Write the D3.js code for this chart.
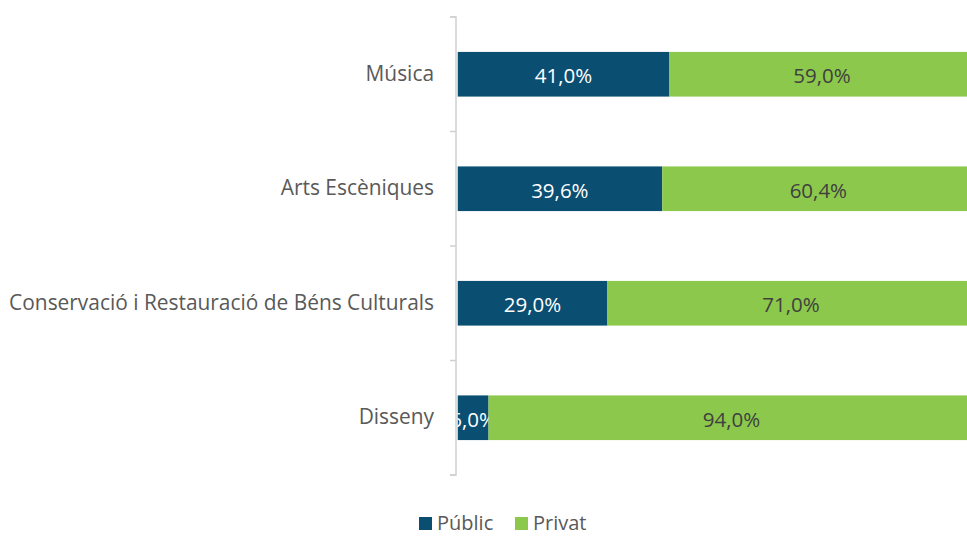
<!DOCTYPE html>
<html><head><meta charset="utf-8">
<script src="https://cdn.jsdelivr.net/npm/d3@7"></script>
<style>body{margin:0;background:#fff}svg{display:block}</style>
</head><body>
<svg id="c" width="967" height="536"></svg>
<script>
const categories = ["Música","Arts Escèniques","Conservació i Restauració de Béns Culturals","Disseny"];
const publicValues = [41.0, 39.6, 29.0, 6.0];
const privatValues = [59.0, 60.4, 71.0, 94.0];
const seriesNames = ["Públic","Privat"];
const colors = ["#0a4e72","#8cc84b"];
const textColors = ["#ffffff","#404040"];

const svg = d3.select("#c");
const font = "'Open Sans', 'Noto Sans', sans-serif";
const x0 = 457.5, plotW = 517;
const x = d3.scaleLinear().domain([0,100]).range([x0, x0+plotW]);
const y = d3.scaleBand().domain(categories).range([17,475]).paddingInner(0.61).paddingOuter(0.305);

const rows = categories.map((c,i)=>({cat:c, vals:[publicValues[i], privatValues[i]]}));

svg.append("clipPath").attr("id","pc").append("rect")
  .attr("x", x0).attr("y", 0).attr("width", 967-x0).attr("height", 536);

const g = svg.append("g").attr("clip-path","url(#pc)");
rows.forEach(r=>{
  let acc = 0;
  r.vals.forEach((v,k)=>{
    const a = acc, b = acc+v; acc = b;
    g.append("rect").attr("x", x(a)).attr("width", x(b)-x(a))
      .attr("y", y(r.cat)).attr("height", y.bandwidth()).attr("fill", colors[k]);
    g.append("text").attr("x", (x(a)+x(b))/2).attr("y", y(r.cat)+y.bandwidth()/2+1)
      .attr("text-anchor","middle").attr("dominant-baseline","central")
      .attr("font-family", font).attr("font-size", 20.5).attr("fill", textColors[k])
      .text(v.toFixed(1).replace(".", ",") + "%");
  });
});

// axis
const axis = d3.axisLeft(y).tickSize(0).tickPadding(22);
const ag = svg.append("g").attr("transform", `translate(${456},0)`).call(axis);
ag.select(".domain").attr("stroke","#d0d0d0").attr("stroke-width",1.5).attr("d", "M-6,17H0V475H-6");
ag.selectAll(".tick text").attr("font-family", font).attr("font-size", 20.9).attr("fill","#595959");
// boundary ticks
const bounds = d3.range(categories.length+1).map(i=>17 + i*(458/categories.length));
ag.selectAll("line.b").data(bounds).enter().append("line").attr("class","b")
  .attr("x1",-6).attr("x2",0).attr("y1",d=>d).attr("y2",d=>d)
  .attr("stroke","#d0d0d0").attr("stroke-width",1.5);

// legend
const lg = svg.append("g");
const lx = [419, 515];
seriesNames.forEach((s,k)=>{
  lg.append("rect").attr("x", lx[k]).attr("y", 517).attr("width", 13).attr("height", 13).attr("fill", colors[k]);
  lg.append("text").attr("x", lx[k]+18).attr("y", 522.5).attr("dominant-baseline","central")
    .attr("font-family", font).attr("font-size", 20).attr("fill","#595959").text(s);
});
</script>
</body></html>
